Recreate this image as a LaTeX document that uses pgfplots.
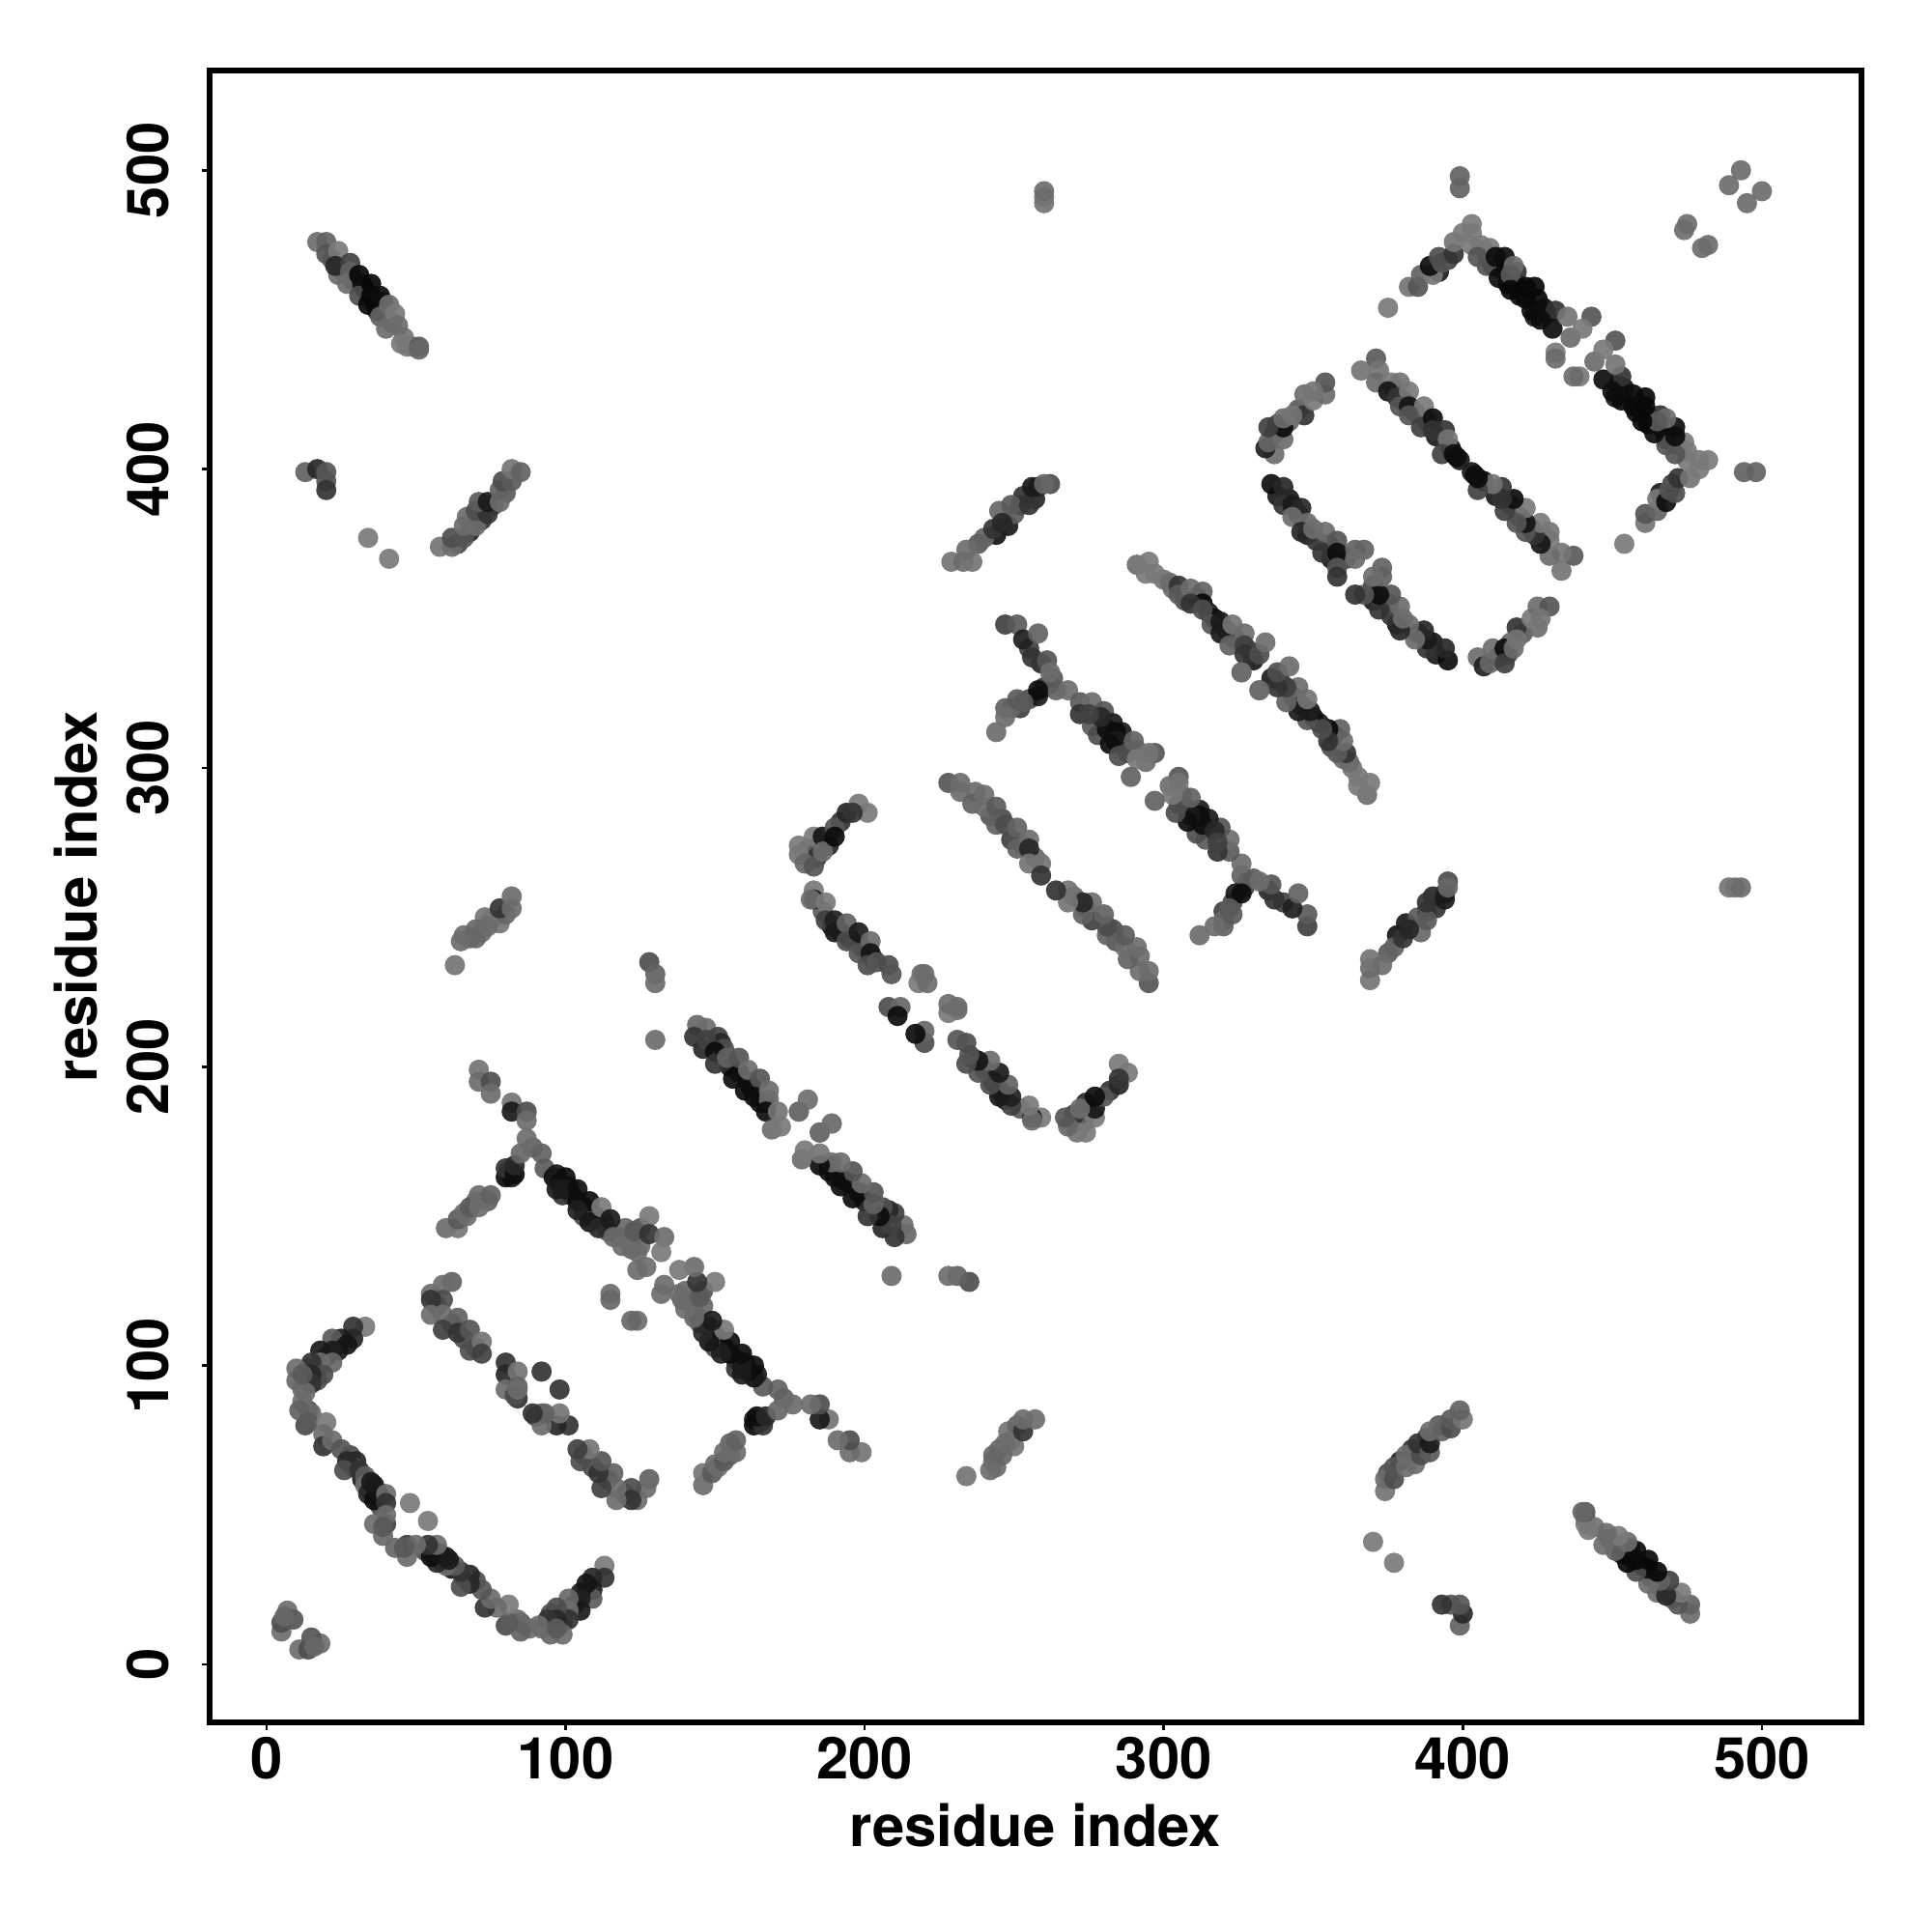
\documentclass[border=0pt]{standalone}
\usepackage{pgfplots}
\usepackage{pgfplotstable}
\usepackage{fontspec}
\setmainfont{TeX Gyre Heros}
\pgfplotsset{compat=1.18}
\pgfplotstableread{
i j g
5 11 .42
5 14 .3
7 18 .42
9 15 .33
6 16 .4
33 113 .47
29 113 .2
29 109 .15
25 109 .1
22 109 .35
24 105 .1
27 107 .08
20 103 .1
17 99 .08
14 99 .15
17 95 .3
12 92 .42
14 85 .3
22 105 .12
18 105 .1
22 101 .4
18 101 .42
15 101 .2
19 97 .3
15 97 .15
10 99 .42
15 94 .2
10 95 .4
13 91 .42
12 97 .35
12 88 .42
13 80 .3
15 84 .42
11 85 .38
14 81 .35
20 81 .47
19 77 .42
19 73 .2
22 75 .42
28 70 .3
30 68 .15
29 66 .3
32 62 .1
34 59 .05
36 58 .1
38 56 .2
38 53 .3
25 72 .33
27 68 .15
26 65 .3
31 65 .2
33 63 .35
33 60 .42
36 60 .1
34 57 .15
36 55 .05
37 58 .08
35 61 .1
40 57 .42
40 54 .2
48 54 .47
36 47 .42
40 47 .25
40 50 .42
39 43 .4
39 46 .35
57 120 .2
62 114 .25
66 109 .3
70 106 .3
62 128 .38
59 127 .42
55 124 .42
59 122 .3
55 122 .2
55 117 .42
59 117 .42
64 116 .38
59 112 .25
64 111 .2
68 112 .33
68 105 .3
72 108 .45
72 104 .25
80 101 .2
80 97 .15
84 98 .45
80 92 .42
84 93 .38
84 89 .2
92 98 .2
90 83 .3
92 84 .42
60 146 .42
64 146 .45
64 149 .35
66 151 .42
70 155 .4
74 155 .38
81 165 .1
82 163 .12
67 150 .42
68 153 .35
71 153 .42
71 157 .42
75 157 .38
80 163 .05
80 166 .2
83 164 .05
83 167 .15
85 171 .4
89 173 .42
71 199 .45
71 195 .42
75 195 .3
75 191 .42
82 188 .45
82 185 .1
87 185 .3
87 182 .42
87 176 .42
89 173 .42
92 171 .38
93 166 .35
96 163 .05
97 164 .1
100 163 .05
98 161 .05
101 160 .05
102 157 .05
106 153 .05
110 150 .08
113 148 .1
99 157 .2
106 150 .3
114 145 .35
118 143 .35
120 146 .4
122 141 .33
125 140 .42
125 146 .33
122 139 .4
97 159 .1
100 159 .1
104 159 .05
104 155 .05
108 155 .05
104 152 .12
108 148 .08
112 153 .47
111 146 .15
115 149 .1
116 143 .4
119 140 .42
123 145 .35
128 150 .47
128 144 .2
124 138 .42
133 143 .42
132 138 .47
124 132 .42
127 133 .42
115 124 .42
115 122 .4
65 242 .42
68 243 .42
72 245 .42
75 249 .42
78 248 .45
80 251 .4
73 250 .45
70 243 .4
63 234 .45
66 244 .42
70 246 .4
74 247 .42
78 253 .2
82 253 .42
82 257 .42
128 235 .3
130 231 .38
130 228 .42
130 209 .42
144 214 .4
147 213 .42
143 210 .2
151 210 .25
146 206 .15
152 208 .15
155 200 .1
158 198 .05
161 195 .15
162 193 .08
165 188 .05
167 188 .1
153 206 .3
147 209 .25
150 205 .05
150 201 .2
154 203 .38
158 203 .33
156 196 .05
161 199 .42
160 192 .05
165 196 .33
163 190 .05
168 192 .42
168 189 .42
167 185 .05
171 185 .45
169 179 .42
172 180 .47
181 189 .45
178 185 .42
189 181 .47
185 178 .42
181 273 .3
184 270 .2
188 274 .15
192 282 .2
178 271 .45
178 274 .47
180 268 .4
183 277 .47
183 267 .33
186 277 .08
186 272 .42
190 280 .33
190 277 .05
194 285 .15
198 288 .47
201 285 .47
196 285 .2
192 245 .1
195 243 .05
199 240 .1
203 236 .1
186 252 .35
189 247 .05
183 259 .47
183 256 .12
182 256 .42
187 255 .47
187 249 .25
190 249 .12
190 245 .1
194 248 .38
194 242 .3
198 245 .1
198 238 .33
202 242 .42
202 238 .08
201 234 .3
204 235 .33
208 234 .3
209 231 .33
219 231 .42
218 228 .47
221 228 .42
220 231 .42
208 220 .3
212 220 .4
211 217 .05
242 284 .33
246 283 .3
249 276 .25
253 274 .3
257 270 .4
228 295 .33
232 295 .42
232 292 .42
237 292 .42
236 288 .38
240 291 .42
240 287 .42
244 287 .35
244 281 .38
247 281 .3
251 280 .38
251 273 .38
255 276 .42
255 273 .15
255 268 .45
259 268 .45
259 264 .2
260 489 .45
260 491 .45
260 493 .42
238 375 .35
244 378 .08
248 381 .1
245 386 .4
250 385 .35
252 388 .3
253 391 .2
258 394 .05
262 395 .3
257 390 .15
229 369 .45
233 369 .42
236 369 .45
234 373 .42
240 377 .38
243 380 .2
246 382 .15
249 388 .35
255 388 .2
256 394 .1
260 395 .4
260 327 .25
262 328 .3
264 326 .38
263 330 .35
259 335 .15
255 340 .25
256 337 .2
252 320 .25
255 323 .3
258 324 .1
249 320 .4
247 320 .38
247 348 .25
251 348 .35
253 343 .12
258 345 .38
261 336 .33
262 332 .42
258 326 .05
253 322 .35
251 323 .35
247 317 .42
244 312 .42
268 326 .42
272 322 .35
276 322 .42
272 318 .2
280 319 .33
276 314 .35
283 315 .1
278 311 .3
286 312 .1
281 313 .05
284 312 .05
279 317 .15
275 318 .25
287 307 .12
284 309 .1
291 306 .4
288 305 .3
282 308 .05
290 309 .38
285 304 .3
297 305 .33
294 302 .42
291 303 .47
289 297 .38
295 305 .45
300 363 .45
303 360 .42
307 356 .3
311 357 .15
315 352 .1
317 350 .05
321 346 .2
324 343 .3
329 339 .2
330 336 .1
291 368 .42
295 369 .47
294 365 .47
297 365 .47
302 362 .42
305 361 .2
305 358 .35
309 360 .42
313 359 .38
313 355 .03
309 355 .2
313 353 .3
316 348 .33
319 349 .1
319 345 .1
323 348 .45
322 341 .38
327 345 .42
327 341 .25
327 338 .2
332 338 .3
334 342 .42
326 332 .42
332 326 .42
337 412 .15
338 415 .25
342 416 .4
345 420 .35
337 405 .42
334 407 .12
335 409 .4
340 410 .42
340 414 .05
335 414 .25
340 417 .42
347 418 .2
343 418 .45
347 425 .42
350 423 .47
354 425 .42
354 429 .33
350 426 .45
338 391 .1
342 390 .1
345 385 .1
348 378 .1
351 376 .2
355 375 .3
356 370 .1
361 370 .25
336 395 .05
340 394 .15
340 388 .2
343 388 .1
346 387 .15
343 384 .42
348 382 .42
346 379 .15
350 380 .42
354 379 .42
353 372 .2
358 376 .33
358 372 .05
364 373 .38
367 373 .38
364 370 .42
358 367 .33
358 364 .2
377 427 .3
380 423 .1
384 419 .2
388 416 .35
391 411 .1
396 407 .05
399 403 .1
366 433 .45
371 437 .35
372 433 .45
371 429 .42
376 429 .47
379 429 .45
375 426 .08
378 424 .2
382 426 .47
379 421 .33
382 421 .08
387 421 .47
382 418 .33
386 414 .25
390 417 .05
390 413 .2
394 413 .2
395 410 .45
393 405 .25
397 405 .05
398 404 .05
410 468 .05
413 467 .05
415 462 .03
418 462 .1
419 458 .05
421 457 .03
425 457 .03
424 451 .1
428 452 .05
418 466 .2
395 470 .25
392 466 .1
408 472 .3
375 454 .47
382 461 .45
385 461 .33
386 465 .38
390 465 .47
389 468 .05
393 469 .33
392 471 .3
397 472 .2
397 476 .45
400 479 .47
403 482 .47
403 479 .47
403 475 .47
406 475 .47
409 474 .47
405 471 .33
408 468 .33
411 471 .05
414 471 .05
417 468 .42
412 464 .05
416 465 .35
416 460 .03
421 461 .03
424 461 .03
423 453 .03
427 454 .05
431 453 .2
426 450 .05
430 447 .05
435 451 .45
443 451 .33
436 444 .42
440 447 .47
431 439 .47
431 437 .42
29 463 .2
33 460 .05
36 456 .05
37 453 .1
39 456 .2
26 466 .3
42 449 .35
46 444 .45
49 441 .45
22 470 .38
17 476 .42
20 476 .38
20 472 .33
24 473 .47
24 465 .42
23 468 .15
28 469 .25
28 466 .38
27 462 .42
31 465 .03
32 462 .05
31 458 .3
35 462 .03
35 458 .03
34 455 .03
38 458 .05
38 451 .38
41 455 .42
43 452 .47
44 448 .42
40 447 .42
45 442 .47
47 441 .47
51 441 .35
51 440 .4
13 399 .38
17 400 .15
20 399 .33
20 396 .33
20 393 .2
34 377 .47
41 370 .47
64 375 .3
68 379 .15
72 383 .2
76 388 .3
80 392 .35
58 374 .45
62 374 .42
62 377 .3
66 377 .33
66 381 .42
70 381 .42
67 384 .42
70 386 .3
74 385 .2
71 389 .35
74 389 .1
78 389 .42
78 393 .38
79 396 .3
82 396 .35
82 400 .45
85 399 .38
399 498 .38
399 494 .38
489 495 .42
493 500 .42
475 482 .42
474 480 .42
}\pts
\begin{document}
\begin{tikzpicture}
\useasboundingbox (0,0) rectangle (200mm,200mm);
\begin{axis}[
  at={(21.7mm,21.7mm)}, anchor=south west,
  scale only axis, width=171mm, height=171mm,
  xmin=-19, xmax=533.3, ymin=-19.4, ymax=533.4,
  axis line style={line width=0.65mm},
  xtick={0,100,200,300,400,500}, ytick={0,100,200,300,400,500},
  xtick pos=bottom, ytick pos=left,
  tick align=outside, major tick length=0.8mm,
  tick style={line width=0.25mm, black},
  /pgf/number format/assume math mode=true,
  tick label style={font=\bfseries\fontsize{17}{18}\selectfont},
  xticklabel style={anchor=north, yshift=0.56mm},
  yticklabel style={rotate=90, anchor=south, yshift=2.2mm},
  label style={font=\bfseries\fontsize{17}{18}\selectfont},
  xlabel={residue index}, ylabel={residue index},
  xlabel style={at={(axis description cs:0.5,-0.0622)}, anchor=center},
  ylabel style={at={(axis description cs:-0.0807,0.5)}, anchor=center},
  colormap={greys}{gray(0cm)=(0); gray(1cm)=(1)},
  point meta min=0, point meta max=1,
]
\addplot[only marks, scatter, scatter src=explicit, mark=*, mark size=1.05mm,
  scatter/use mapped color={draw=none, fill=mapped color},
  mark options={fill opacity=0.92, draw opacity=0}]
  table[x index=0, y index=1, meta index=2] {\pts};
\addplot[only marks, scatter, scatter src=explicit, mark=*, mark size=1.05mm,
  scatter/use mapped color={draw=none, fill=mapped color},
  mark options={fill opacity=0.92, draw opacity=0}]
  table[x index=1, y index=0, meta index=2] {\pts};
\end{axis}
\end{tikzpicture}
\end{document}
